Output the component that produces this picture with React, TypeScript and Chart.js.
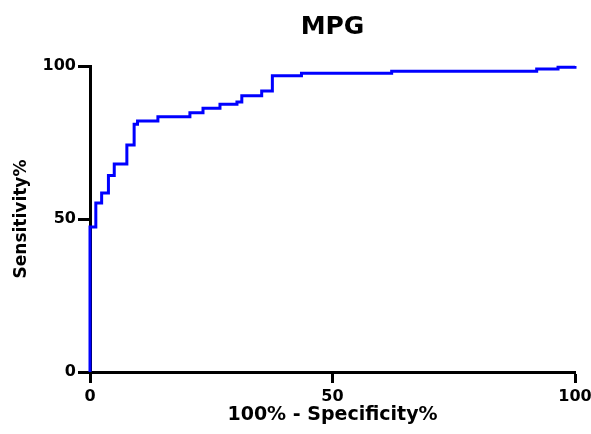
import React, { useEffect, useRef } from "react";
import { Chart, registerables } from "chart.js";

Chart.register(...registerables);

const chartTitle = "MPG";
const xTitle = "100% - Specificity%";
const yTitle = "Sensitivity%";
// ROC curve: 100% - Specificity% (x) and Sensitivity% (y)
const fpr = [0, 0, 1.2, 2.4, 3.8, 5.0, 7.6, 9.1, 9.8, 14.0, 20.6, 23.3, 26.8, 30.3, 31.3, 35.4, 37.6, 43.6, 62.2, 92.1, 96.5, 100];
const tpr = [0, 47.4, 55.2, 58.5, 64.2, 68.0, 74.2, 81.0, 82.0, 83.4, 84.7, 86.2, 87.5, 88.2, 90.3, 91.8, 96.8, 97.6, 98.3, 99.0, 99.6, 100];
const axisMin = 0;
const axisMax = 100;
const tickStep = 50;

const FONT_FAMILY = "'DejaVu Sans', sans-serif";

const titlePlugin = {
  id: "centeredTitle",
  afterDraw(chart: any) {
    const { ctx, chartArea } = chart;
    ctx.save();
    ctx.font = `bold 25px ${FONT_FAMILY}`;
    ctx.fillStyle = "#000";
    ctx.textAlign = "center";
    ctx.textBaseline = "middle";
    ctx.fillText(chartTitle, (chartArea.left + chartArea.right) / 2, 27);
    ctx.restore();
  },
};

export default function App() {
  const ref = useRef<HTMLCanvasElement>(null);
  useEffect(() => {
    if (!ref.current) return;
    const font = (size: number) => ({ family: FONT_FAMILY, weight: "bold" as const, size });
    const chart = new Chart(ref.current, {
      type: "line",
      data: {
        datasets: [
          {
            data: fpr.map((x, i) => ({ x, y: tpr[i] })),
            borderColor: "#0000ff",
            borderWidth: 3,
            pointRadius: 0,
            stepped: "before",
            fill: false,
            clip: false as any,
          },
        ],
      },
      plugins: [titlePlugin],
      options: {
        animation: false,
        responsive: false,
        layout: { padding: { left: 0, right: 16, top: 66, bottom: 0 } },
        plugins: {
          legend: { display: false },
          tooltip: { enabled: false },
          title: { display: false },
        },
        scales: {
          x: {
            type: "linear",
            min: axisMin,
            max: axisMax,
            ticks: { stepSize: tickStep, color: "#000", font: font(16), padding: 4, maxRotation: 0 },
            grid: { drawOnChartArea: false, drawTicks: true, tickLength: 11, tickWidth: 3, tickColor: "#000" },
            border: { display: true, color: "#000", width: 3 },
            title: { display: true, text: xTitle, color: "#000", font: font(19), padding: { top: 0, bottom: 8 } },
            afterFit: (s: any) => { s.height = 62; s.paddingRight = 0; s.paddingLeft = 0; },
          },
          y: {
            type: "linear",
            min: axisMin,
            max: axisMax,
            ticks: { stepSize: tickStep, color: "#000", font: font(16), padding: 2 },
            grid: { drawOnChartArea: false, drawTicks: true, tickLength: 12, tickWidth: 3, tickColor: "#000" },
            border: { display: true, color: "#000", width: 3 },
            title: { display: true, text: yTitle, color: "#000", font: font(17), padding: { top: 11, bottom: 0 } },
            afterFit: (s: any) => { s.width = 90; s.paddingTop = 0; s.paddingBottom = 0; },
          },
        },
      },
    });
    return () => chart.destroy();
  }, []);
  return (
    <div style={{ position: "absolute", left: 0, top: 0, width: 591, height: 434, background: "#fff" }}>
      <canvas ref={ref} width={591} height={434} />
    </div>
  );
}
